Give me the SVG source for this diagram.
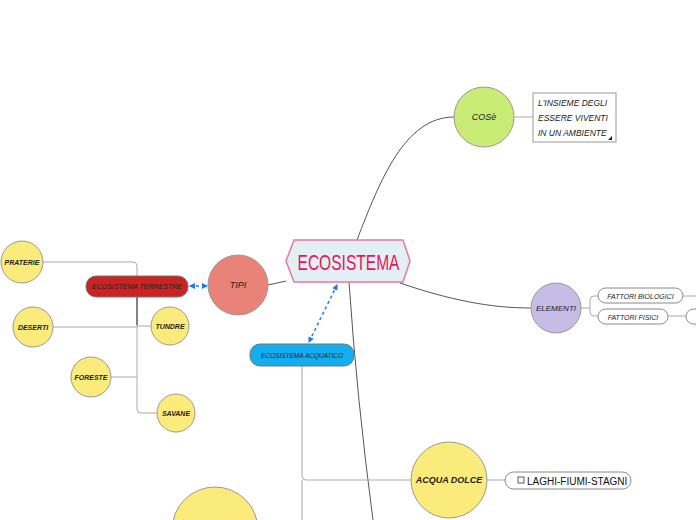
<svg xmlns="http://www.w3.org/2000/svg" width="696" height="520" viewBox="0 0 696 520">
<defs>
<style>
.main{stroke:#555;stroke-width:1;fill:none}
.sub{stroke:#aaa;stroke-width:1;fill:none}
.dash{stroke:#1e7be6;stroke-width:1.5;stroke-dasharray:3 3;fill:none}
.yc{fill:#fbeb7b;stroke:#999;stroke-width:1}
.lbl{font-family:"Liberation Sans",Arial,sans-serif;font-style:italic;fill:#222}
.pill{fill:#fff;stroke:#888;stroke-width:1}
</style>
<marker id="ah" viewBox="0 0 6 6" refX="5" refY="3" markerWidth="4" markerHeight="4" orient="auto-start-reverse">
<path d="M0,0 L6,3 L0,6 z" fill="#1e7be6"/>
</marker>
</defs>
<rect width="696" height="520" fill="#fff"/>
<g id="connectors">
<path class="main" d="M357,240 C380,180 405,117 454,117"/>
<path class="main" d="M286,281 L268,285"/>
<path class="main" d="M400,283 C450,300 490,308 531,308"/>
<path class="main" d="M349,282 Q357,400 373,520"/>
<path class="dash" d="M337,285 L309,342" marker-start="url(#ah)" marker-end="url(#ah)"/>
<path class="dash" d="M190,286 L207,286" marker-start="url(#ah)" marker-end="url(#ah)"/>
<path class="sub" d="M514,117 L533,117"/>
<path class="sub" d="M43,262 L133,262 Q137,262 137,266 L137,409 Q137,413 141,413 L157,413"/>
<path class="sub" d="M53,327 L137,327"/>
<path class="sub" d="M137,326 L151,326"/>
<path class="sub" d="M111,377 L137,377"/>
<path stroke="#666" stroke-width="1.5" fill="none" d="M137,297 L137,325"/>
<path class="sub" d="M581,308 L590,308 M598,296 L594,296 Q590,296 590,300 L590,312 Q590,316 594,316 L598,316"/>
<path class="sub" d="M683,296 L696,296 M668,316 L686,316"/>
<path class="sub" d="M302,366 L302,476 Q302,480 306,480 L411,480 M302,480 L302,520"/>
<path class="sub" d="M487,480 L505,480"/>
</g>
<g id="center">
<polygon points="286,261 294,240 403,240 410,261 403,282 294,282" fill="#e3eef5" stroke="#e8799f" stroke-width="1.5"/>
<text x="348.5" y="270" text-anchor="middle" font-family="Liberation Sans, Arial, sans-serif" font-size="22" fill="#e0185a" textLength="102" lengthAdjust="spacingAndGlyphs">ECOSISTEMA</text>
</g>
<g id="cose">
<circle cx="484" cy="117" r="30" fill="#c9ec76" stroke="#999"/>
<text class="lbl" x="484" y="120" text-anchor="middle" font-size="9">COSè</text>
</g>
<g id="cose-note">
<rect x="533" y="93" width="83" height="49" fill="#fff" stroke="#999"/>
<text class="lbl" font-size="8.5" fill="#222"><tspan x="538" y="106">L'INSIEME DEGLI</tspan><tspan x="538" y="121">ESSERE VIVENTI</tspan><tspan x="538" y="136">IN UN AMBIENTE</tspan></text>
<path d="M612,136 L612,140 L608,140 z" fill="#222"/>
</g>
<g id="tipi">
<circle cx="238" cy="285" r="30" fill="#e98277" stroke="#999"/>
<text class="lbl" x="238" y="288" text-anchor="middle" font-size="9" fill="#444">TIPI</text>
</g>
<g id="terrestre">
<rect x="86" y="276" width="102" height="21" rx="10" fill="#cc2222" stroke="#777"/>
<text class="lbl" x="137" y="289" text-anchor="middle" font-size="7" textLength="90" lengthAdjust="spacingAndGlyphs">ECOSISTEMA TERRESTRE</text>
</g>
<g id="praterie"><circle class="yc" cx="22" cy="262" r="21"/><text class="lbl" x="22" y="265" text-anchor="middle" font-size="7" font-weight="bold">PRATERIE</text></g>
<g id="deserti"><circle class="yc" cx="33" cy="327" r="20"/><text class="lbl" x="33" y="330" text-anchor="middle" font-size="7" font-weight="bold">DESERTI</text></g>
<g id="tundre"><circle class="yc" cx="170" cy="326" r="19"/><text class="lbl" x="170" y="329" text-anchor="middle" font-size="7" font-weight="bold">TUNDRE</text></g>
<g id="foreste"><circle class="yc" cx="91" cy="377" r="20"/><text class="lbl" x="91" y="380" text-anchor="middle" font-size="7" font-weight="bold">FORESTE</text></g>
<g id="savane"><circle class="yc" cx="176" cy="413" r="19"/><text class="lbl" x="176" y="416" text-anchor="middle" font-size="7" font-weight="bold">SAVANE</text></g>
<g id="elementi">
<circle cx="556" cy="308" r="25" fill="#c5bde6" stroke="#999"/>
<text class="lbl" x="556" y="311" text-anchor="middle" font-size="8" fill="#444">ELEMENTI</text>
</g>
<g id="biologici"><rect class="pill" x="598" y="288" width="85" height="15" rx="7.5"/><text class="lbl" x="640.5" y="298.5" text-anchor="middle" font-size="7">FATTORI BIOLOGICI</text></g>
<g id="fisici"><rect class="pill" x="598" y="309" width="70" height="15" rx="7.5"/><text class="lbl" x="633" y="319.5" text-anchor="middle" font-size="7">FATTORI FISICI</text></g>
<g id="fisici-child"><rect class="pill" x="686" y="309" width="40" height="15" rx="7.5"/></g>
<g id="acquatico">
<rect x="250" y="344" width="104" height="22" rx="10" fill="#12aef0" stroke="#777"/>
<text class="lbl" x="302" y="358" text-anchor="middle" font-size="7" textLength="82" lengthAdjust="spacingAndGlyphs">ECOSISTEMA ACQUATICO</text>
</g>
<g id="acqua-dolce"><circle class="yc" cx="449" cy="480" r="38"/><text class="lbl" x="449" y="483" text-anchor="middle" font-size="9" font-weight="bold">ACQUA DOLCE</text></g>
<g id="laghi">
<rect class="pill" x="505" y="472" width="126" height="17" rx="8.5"/>
<rect x="518" y="477" width="6" height="6" fill="#fff" stroke="#333" stroke-width="0.8"/>
<text x="527" y="484.5" font-family="Liberation Sans, Arial, sans-serif" font-size="10" fill="#111">LAGHI-FIUMI-STAGNI</text>
</g>
<g id="bottom-circle"><circle class="yc" cx="215" cy="530" r="43"/></g>
</svg>
